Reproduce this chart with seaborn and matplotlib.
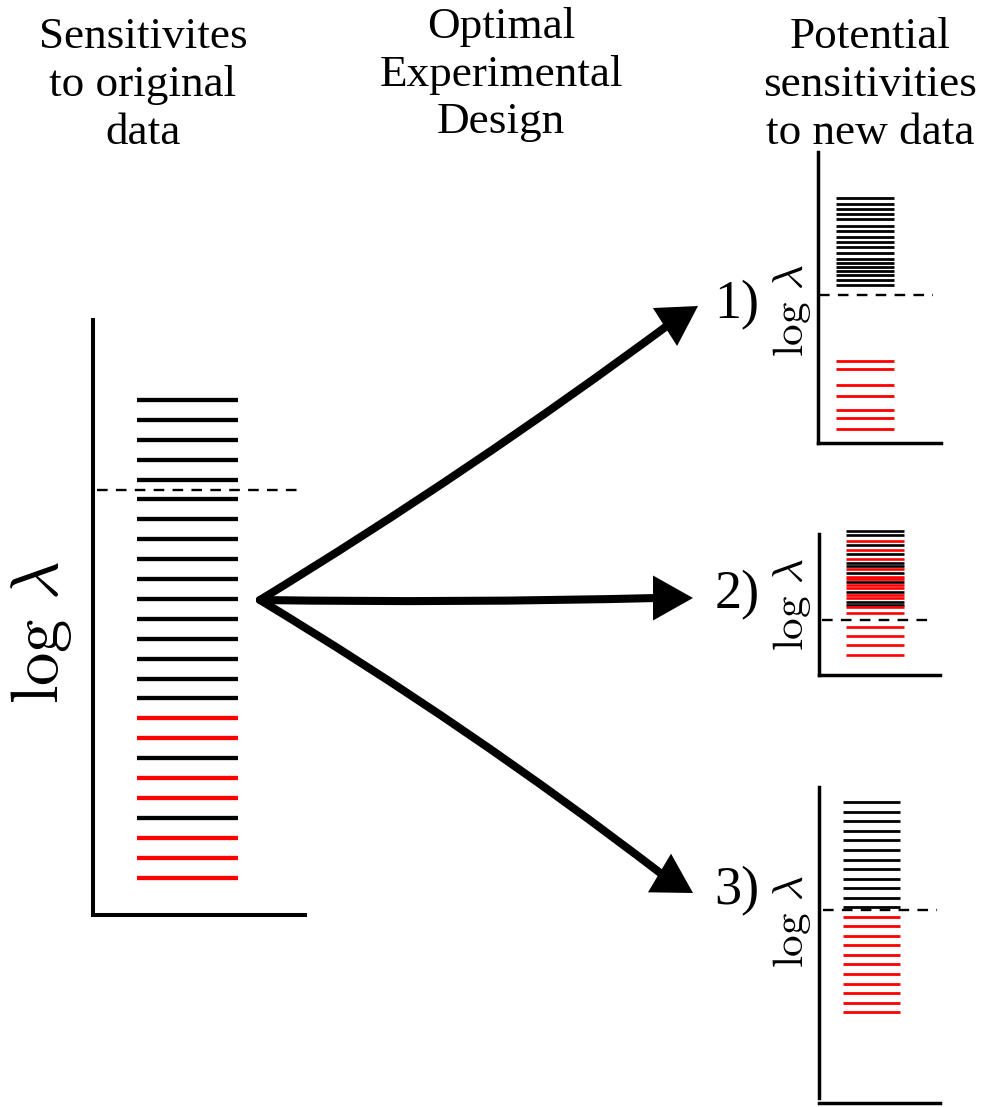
import numpy as np
import matplotlib
matplotlib.use("Agg")
import matplotlib.pyplot as plt
import seaborn as sns
from matplotlib.patches import FancyArrowPatch, Polygon

# log(lambda) levels of each sensitivity, measured up from each panel's x axis
main_black = [515, 495, 475, 455, 435, 416, 396, 376, 356, 336, 316, 296, 276, 256, 236, 217, 157, 97]
main_red = [197, 177, 137, 117, 77, 57, 37]
main_cut = 425

new1_black = [245, 239, 234, 229, 224, 217, 212, 206, 201, 196, 190, 184, 180, 176, 172, 168, 163, 158]
new1_red = [82, 74, 58, 47, 33, 25, 14]
new1_cut = 148

new2_black = [144, 140, 130, 121, 112, 109, 102, 93, 83, 73, 70]
new2_red = [134, 125, 116, 106, 98, 96, 90, 87, 80, 77, 68, 62, 48, 39, 30, 20]
new2_cut = 55

new3_black = [296, 286, 277, 267, 258, 248, 238, 229, 219, 210, 200, 191]
new3_red = [181, 172, 162, 153, 143, 134, 124, 114, 105, 95, 86]
new3_cut = 188

titles = ["Sensitivites\nto original\ndata",
          "Optimal\nExperimental\nDesign",
          "Potential\nsensitivities\nto new data"]
outcomes = ["1)", "2)", "3)"]

sns.set_style("white")
plt.rcParams["mathtext.fontset"] = "cm"
plt.rcParams["text.color"] = "black"
serif = ["Liberation Serif", "DejaVu Serif"]

W, H = 998, 1107
fig = plt.figure(figsize=(W / 100, H / 100), dpi=100)

# background axes in pixel units, for arrows and text
bg = fig.add_axes([0, 0, 1, 1])
bg.set_xlim(0, W)
bg.set_ylim(H, 0)
bg.axis("off")


def px_axes(left, top, right, bottom):
    return fig.add_axes([left / W, 1 - bottom / H, (right - left) / W, (bottom - top) / H])


def spectrum(ax, black, red, cut, height, x0, x1, lw, spine_lw, dash):
    ax.set_xlim(0, 1)
    ax.set_ylim(0, height)
    ax.hlines(black, x0, x1, colors="black", lw=lw, clip_on=False)
    ax.hlines(red, x0, x1, colors="red", lw=lw, clip_on=False)
    ax.axhline(cut, dash[0], dash[1], color="black", lw=1.7, ls=(0, (4.5, 3.5)), clip_on=False)
    ax.set_xticks([])
    ax.set_yticks([])
    sns.despine(ax=ax)
    for s in ("left", "bottom"):
        ax.spines[s].set_linewidth(spine_lw)
        ax.spines[s].set_color("black")
    ax.patch.set_alpha(0)


ax0 = px_axes(93, 320, 305, 915)
spectrum(ax0, main_black, main_red, main_cut, 595, 0.208, 0.684, 3.1, 2.9, (0.02, 0.96))

ax1 = px_axes(818, 152, 941, 443)
spectrum(ax1, new1_black, new1_red, new1_cut, 291, 0.15, 0.62, 2.0, 2.5, (0.01, 0.935))

ax2 = px_axes(819, 534, 940, 675)
spectrum(ax2, new2_black, new2_red, new2_cut, 141, 0.225, 0.70, 1.9, 2.5, (0.025, 0.96))

ax3 = px_axes(819, 787, 940, 1098)
spectrum(ax3, new3_black, new3_red, new3_cut, 311, 0.20, 0.67, 2.0, 2.5, (0.03, 0.975))
ax3.spines["bottom"].set_position(("outward", 3.6))

# titles
for x, y, t in zip((143, 501, 870), (17, 7, 17), titles):
    bg.text(x, y, t, ha="center", va="top", family=serif, fontsize=32.5,
            linespacing=1.25, color="black")

# log lambda labels
bg.text(41, 632, r"$\log\,\lambda$", rotation=90, ha="center", va="center", fontsize=48)
for y in (310, 604, 921):
    bg.text(792, y, r"$\log\,\lambda$", rotation=90, ha="center", va="center", fontsize=31)

# outcome numbers
for lab, y in zip(outcomes, (305, 595, 891)):
    bg.text(737, y, lab, ha="center", va="center", family=serif, fontsize=39)

# arrows: (tip, base middle, curvature)
origin = (260, 600)
arrows = [((698, 306), (665, 327), 0.022),
          ((693, 598), (653, 598), 0.01),
          ((693, 893), (659.5, 873), -0.028)]
half_w = 22.5
for tip, base, rad in arrows:
    tip = np.array(tip, float)
    base = np.array(base, float)
    d = (tip - base) / np.linalg.norm(tip - base)
    perp = np.array([-d[1], d[0]])
    shaft = FancyArrowPatch(origin, tuple(base + d * 4), arrowstyle="-",
                            connectionstyle=f"arc3,rad={rad}", lw=5.8,
                            color="black", capstyle="round", shrinkA=0, shrinkB=0)
    bg.add_patch(shaft)
    head = Polygon([tip, base + perp * half_w, base - perp * half_w],
                   closed=True, color="black", lw=0)
    bg.add_patch(head)

fig.savefig("out.png", dpi=100)
